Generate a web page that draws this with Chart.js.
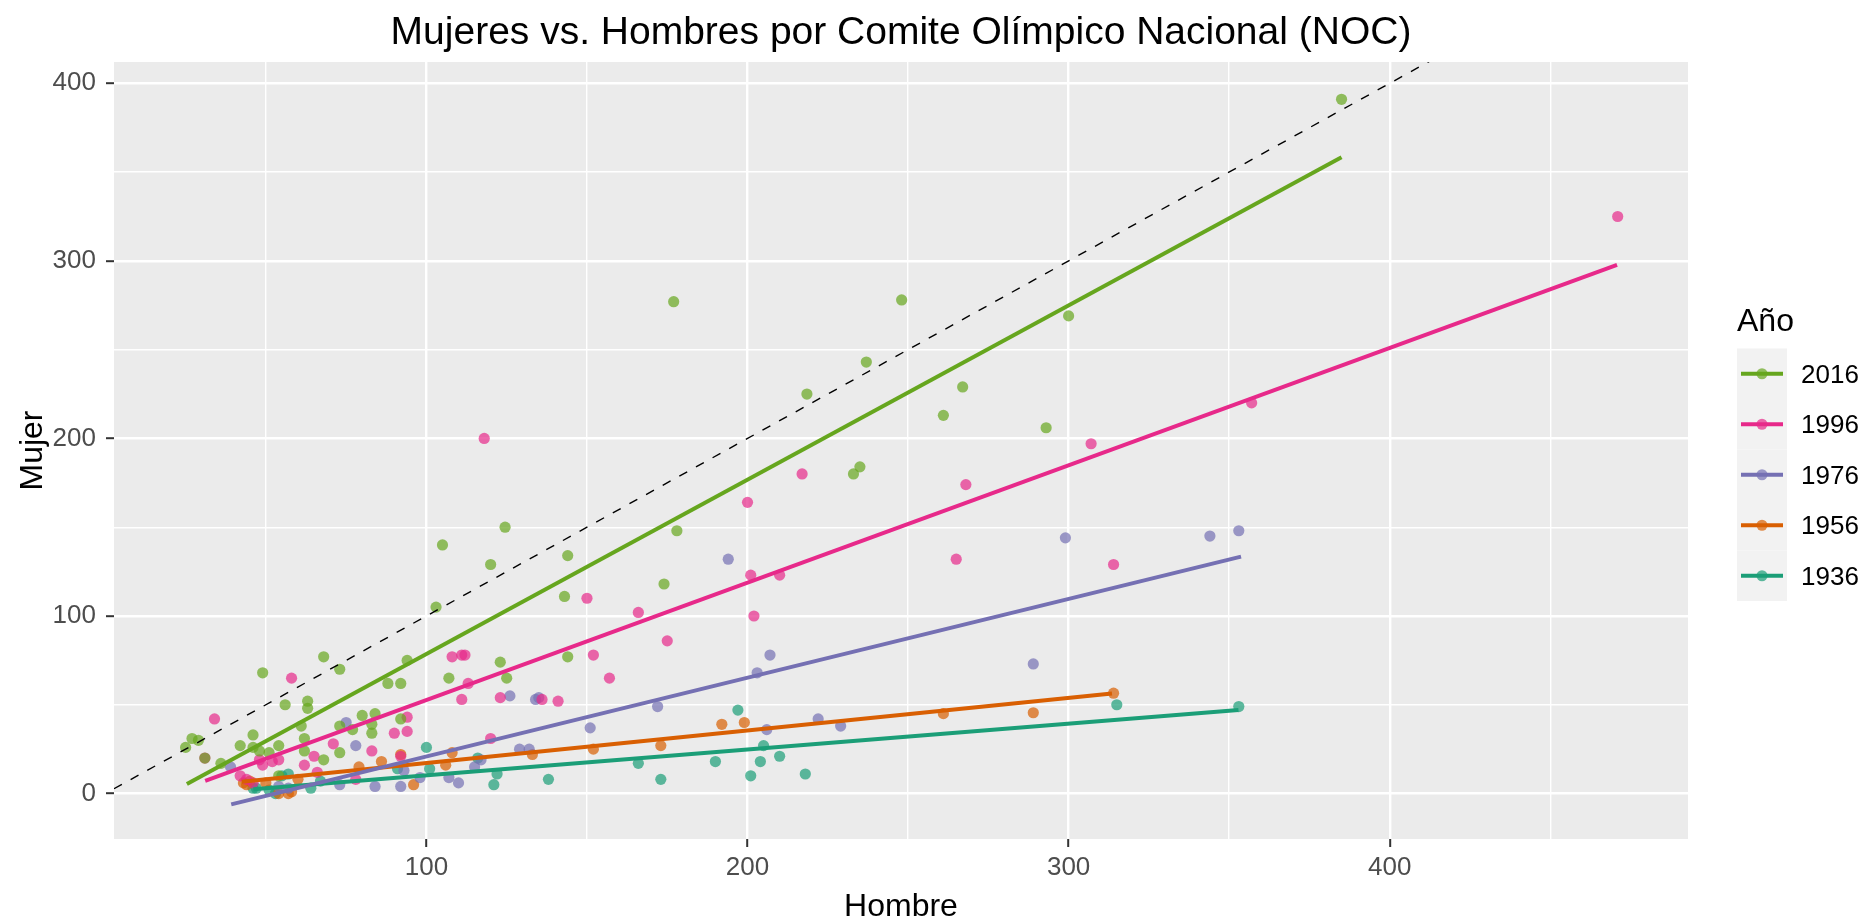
<!DOCTYPE html>
<html>
<head>
<meta charset="utf-8">
<title>Mujeres vs. Hombres por NOC</title>
<script src="https://cdn.jsdelivr.net/npm/chart.js@4.4.1/dist/chart.umd.min.js"></script>
<style>
    html, body { margin: 0; padding: 0; background: #ffffff; overflow: hidden; }
    #wrap { width: 1870px; height: 923px; position: relative; }
</style>
</head>
<body>
<div id="wrap"><canvas id="chartNoc"></canvas></div>
<script>
// ============================================
// Mujeres vs. Hombres por Comité Olímpico Nacional
// ============================================

// Años (orden de la leyenda) y paleta Dark2
const years = ['2016', '1996', '1976', '1956', '1936'];
const colors = ['#66A61E', '#E7298A', '#7570B3', '#D95F02', '#1B9E77'];

// Atletas por NOC: hombres (x) y mujeres (y)
const hombre2016 = [25, 27, 29, 31, 36, 42, 46, 46, 48, 51, 54, 54, 49, 56, 61, 62, 62, 63, 63, 68,
    68, 73, 73, 73, 77, 80, 83, 83, 84, 88, 92, 92, 94, 103, 105, 107, 120, 123, 124.5, 125,
    143, 144, 144, 174, 178, 177, 218.5, 233, 235, 237, 248, 261, 267, 293, 300, 385];
const mujer2016 = [26, 31, 30, 20, 17, 27, 33, 26, 24, 23, 27, 10, 68, 50, 38, 31, 24, 52, 48, 77,
    19, 70, 38, 23, 36, 44, 39, 34, 45, 62, 62, 42, 75, 105, 140, 65, 129, 74, 150, 65,
    111, 134, 77, 118, 148, 277, 225, 180, 184, 243, 278, 213, 229, 206, 269, 391];

const hombre1996 = [31, 34, 42, 44, 46, 48, 49, 52, 54, 58, 62, 65, 66, 71, 78, 83, 90, 94, 94, 92,
    108, 111, 112, 111, 113, 118, 120, 123, 136, 141, 150, 152, 157, 166, 175, 200, 201, 202, 210, 217,
    265, 268, 307, 314, 357, 471];
const mujer1996 = [20, 42, 10, 8, 6, 19, 16, 18, 19, 65, 16, 21, 12, 28, 8, 24, 34, 35, 43, 21,
    77, 78, 78, 53, 62, 200, 31, 54, 53, 52, 110, 78, 65, 102, 86, 164, 123, 100, 123, 180,
    132, 174, 197, 129, 220, 325];

const hombre1976 = [39, 54, 57, 73, 75, 78, 84, 92, 93, 98, 107, 110, 115, 117, 126, 129, 132, 134, 135, 151,
    172, 194, 203, 206, 207, 222, 229, 289, 299, 344, 353];
const mujer1976 = [15, 4, 3, 5, 40, 27, 4, 4, 13, 9, 9, 6, 15, 19, 55, 25, 25, 53, 54, 37,
    49, 132, 68, 36, 78, 42, 38, 73, 144, 145, 148];

const hombre1956 = [43, 44, 45, 50, 54, 57, 58, 60, 79, 86, 92, 96, 106, 108, 133, 152, 173, 192, 199, 261,
    289, 314];
const mujer1956 = [6, 5, 7, 6, 0, 0, 1, 8, 15, 18, 22, 5, 16, 23, 22, 25, 27, 39, 40, 45,
    45.5, 56.5];

const hombre1936 = [46, 47, 51, 53, 55, 57, 64, 67, 91, 100, 101, 116, 121, 122, 138, 166, 173, 190, 197, 201,
    204, 205, 210, 218, 315, 353];
const mujer1936 = [3, 3, 2, 0, 10, 11, 3, 7, 14, 26, 14, 20, 5, 11, 8, 17, 8, 18, 47, 10,
    18, 27, 21, 11, 50, 49];

const hombres = [hombre2016, hombre1996, hombre1976, hombre1956, hombre1936];
const mujeres = [mujer2016, mujer1996, mujer1976, mujer1956, mujer1936];

// Rectas de regresión (lm): extremos, en el orden de years
const fitX0 = [25.4, 31.1, 39.2, 42.5, 46.1];
const fitY0 = [5.4, 7.2, -6.1, 6.6, 2.4];
const fitX1 = [385.0, 470.8, 353.7, 313.5, 352.9];
const fitY1 = [358.3, 297.7, 133.4, 56.4, 47.0];

// Recta de referencia mujeres = hombres
const ablineIntercept = 0;
const ablineSlope = 1;

// Ejes
const xMajor = [100, 200, 300, 400];
const xMinor = [50, 150, 250, 350, 450];
const yMajor = [0, 100, 200, 300, 400];
const yMinor = [50, 150, 250, 350];
const xRange = [2.7, 492.9];
const yRange = [-25.6, 412];

const FONT = "'Liberation Sans', Arial, sans-serif";

function withAlpha(hex, a) {
    const n = parseInt(hex.slice(1), 16);
    return `rgba(${(n >> 16) & 255},${(n >> 8) & 255},${n & 255},${a})`;
}

const isMajor = (c, majors) => !!(c.tick && majors.includes(c.tick.value));

// Fondo gris del panel (estilo ggplot)
const panelBg = {
    id: 'panelBg',
    beforeDraw(chart) {
        const { ctx, chartArea: a } = chart;
        ctx.save();
        ctx.fillStyle = '#ffffff';
        ctx.fillRect(0, 0, chart.width, chart.height);
        ctx.fillStyle = '#EBEBEB';
        ctx.fillRect(a.left, a.top, a.right - a.left, a.bottom - a.top);
        ctx.restore();
    }
};

// Leyenda "Año" dibujada a mano (línea + punto sobre fondo gris)
const yearLegend = {
    id: 'yearLegend',
    afterDraw(chart) {
        const { ctx } = chart;
        const left = 1737, keyW = 50, keyH = 50.5, firstTop = 348.5;
        ctx.save();
        ctx.fillStyle = '#000000';
        ctx.font = `32px ${FONT}`;
        ctx.textBaseline = 'middle';
        ctx.textAlign = 'left';
        ctx.fillText('Año', left, 322);

        years.forEach((yr, i) => {
            const top = firstTop + i * keyH;
            const cy = top + keyH / 2;
            ctx.fillStyle = '#F2F2F2';
            ctx.fillRect(left, top, keyW, keyH);

            ctx.strokeStyle = colors[i];
            ctx.lineWidth = 4;
            ctx.beginPath();
            ctx.moveTo(left + 4, cy);
            ctx.lineTo(left + keyW - 4, cy);
            ctx.stroke();

            ctx.fillStyle = withAlpha(colors[i], 0.7);
            ctx.beginPath();
            ctx.arc(left + keyW / 2, cy, 5.5, 0, Math.PI * 2);
            ctx.fill();

            ctx.fillStyle = '#000000';
            ctx.font = `26px ${FONT}`;
            ctx.fillText(yr, 1801, cy + 2);
        });
        ctx.restore();
    }
};

const pointSets = years.map((yr, i) => ({
    type: 'scatter',
    label: yr,
    data: hombres[i].map((h, j) => ({ x: h, y: mujeres[i][j] })),
    backgroundColor: withAlpha(colors[i], 0.7),
    borderWidth: 0,
    pointRadius: 5.6,
    pointHoverRadius: 5.6,
    order: 3
}));

const fitSets = years.map((yr, i) => ({
    type: 'line',
    label: 'lm ' + yr,
    data: [{ x: fitX0[i], y: fitY0[i] }, { x: fitX1[i], y: fitY1[i] }],
    borderColor: colors[i],
    borderWidth: 4,
    pointRadius: 0,
    fill: false,
    order: 2
}));

const refSet = {
    type: 'line',
    label: 'y = x',
    data: xRange.map(v => ({ x: v, y: ablineIntercept + ablineSlope * v })),
    borderColor: '#000000',
    borderWidth: 1.4,
    borderDash: [9, 10],
    pointRadius: 0,
    fill: false,
    order: 1
};

new Chart(document.getElementById('chartNoc'), {
    type: 'scatter',
    data: { datasets: [...pointSets, ...fitSets, refSet] },
    options: {
        responsive: true,
        maintainAspectRatio: false,
        animation: false,
        events: [],
        layout: { padding: { left: 0, right: 182, top: 0, bottom: 0 } },
        plugins: {
            legend: { display: false },
            tooltip: { enabled: false },
            title: {
                display: true,
                text: 'Mujeres vs. Hombres por Comite Olímpico Nacional (NOC)',
                color: '#000000',
                fullSize: false,
                font: { family: FONT, size: 39, weight: 'normal', lineHeight: 1.2 },
                padding: { top: 10, bottom: 5.2 }
            }
        },
        scales: {
            x: {
                type: 'linear',
                min: xRange[0],
                max: xRange[1],
                afterBuildTicks: s => {
                    s.ticks = xMinor.concat(xMajor).sort((a, b) => a - b).map(v => ({ value: v }));
                },
                afterFit: s => { s.height = 84; },
                border: { display: false },
                grid: {
                    color: '#FFFFFF',
                    lineWidth: c => isMajor(c, xMajor) ? 2.4 : 1.4,
                    drawTicks: true,
                    tickLength: 8,
                    tickWidth: 2,
                    tickColor: c => isMajor(c, xMajor) ? '#333333' : 'rgba(0,0,0,0)'
                },
                ticks: {
                    autoSkip: false,
                    maxRotation: 0,
                    padding: 5,
                    color: '#4D4D4D',
                    font: { family: FONT, size: 26 },
                    callback: v => xMajor.includes(v) ? String(v) : ''
                },
                title: {
                    display: true,
                    text: 'Hombre',
                    color: '#000000',
                    font: { family: FONT, size: 32, lineHeight: 1.0 },
                    padding: { top: -2, bottom: 0 }
                }
            },
            y: {
                type: 'linear',
                min: yRange[0],
                max: yRange[1],
                afterBuildTicks: s => {
                    s.ticks = yMinor.concat(yMajor).sort((a, b) => a - b).map(v => ({ value: v }));
                },
                afterFit: s => { s.width = 114; },
                border: { display: false },
                grid: {
                    color: '#FFFFFF',
                    lineWidth: c => isMajor(c, yMajor) ? 2.4 : 1.4,
                    drawTicks: true,
                    tickLength: 8,
                    tickWidth: 2,
                    tickColor: c => isMajor(c, yMajor) ? '#333333' : 'rgba(0,0,0,0)'
                },
                ticks: {
                    autoSkip: false,
                    padding: 10,
                    color: '#4D4D4D',
                    font: { family: FONT, size: 26 },
                    callback: v => yMajor.includes(v) ? String(v) : ''
                },
                title: {
                    display: true,
                    text: 'Mujer',
                    color: '#000000',
                    font: { family: FONT, size: 32, lineHeight: 1.0 },
                    padding: { top: 17, bottom: 0 }
                }
            }
        }
    },
    plugins: [panelBg, yearLegend]
});
</script>
</body>
</html>
